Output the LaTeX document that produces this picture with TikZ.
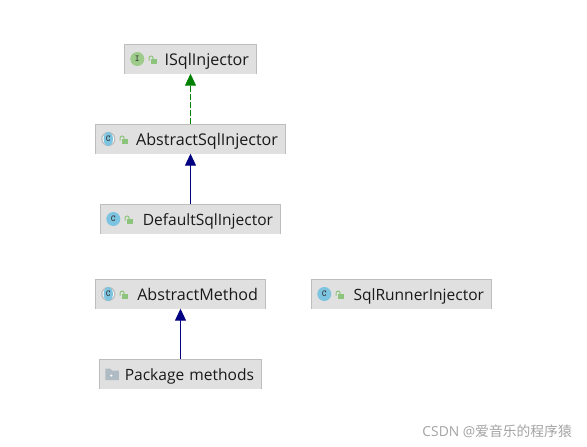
\documentclass[tikz,border=0pt]{standalone}
\usepackage{fontspec}
\setmainfont{Open Sans}
\newfontfamily\cjkfont{Noto Sans CJK SC}
\usetikzlibrary{arrows.meta}
\definecolor{boxfill}{HTML}{E0E0E0}
\definecolor{boxline}{HTML}{BDBDBD}
\definecolor{iconblue}{HTML}{7CC4DF}
\definecolor{icongreen}{HTML}{9CCB8A}
\definecolor{lockgreen}{HTML}{8DC47C}
\definecolor{foldergray}{HTML}{AEBBC2}
\definecolor{implgreen}{HTML}{008000}
\definecolor{extblue}{HTML}{000080}
\definecolor{marktext}{HTML}{A3A3A3}
\tikzset{
  lock/.pic={
    \fill[lockgreen] (-1.5,0) rectangle (4,5);
    \draw[lockgreen,line width=1pt] (-3.7,1.5) -- (-3.7,-1) arc (180:360:2) -- (0.3,0);
  }
}
\begin{document}
\begin{tikzpicture}[x=1pt,y=-1pt,node distance=80pt,
    main box/.style={fill=boxfill,minimum height=29pt,inner xsep=7.5pt,inner ysep=0pt,
      text width=#1-15pt,text height=12pt,text depth=0pt,align=right,
      font=\fontsize{16.1}{18}\selectfont,text=black!90},
    tight box/.style={main box=#1,font=\fontsize{15.55}{18}\selectfont},
    class icon/.style={circle,fill=iconblue,minimum size=14pt,inner sep=0pt,
      font=\fontsize{9}{9}\bfseries\ttfamily,text=black!80},
    iface icon/.style={class icon,fill=icongreen},
    abs icon/.style={class icon,draw=boxline,fill=white,line width=1.2pt,minimum size=13pt},
    abs letter/.style={font=\fontsize{9}{9}\bfseries\ttfamily,text=black!80,inner sep=0pt},
    impl arrow/.style={-{Triangle[length=12pt,width=11pt]},implgreen,line width=1pt,dash pattern=on 6pt off 2pt},
    ext arrow/.style={-{Triangle[length=12pt,width=11pt]},extblue,line width=1pt}]
    \useasboundingbox (0,0) rectangle (587,447);
    \node[main box=132pt] (isql) at (190.5,59) {ISqlInjector};
    \node[main box=190pt] (abs_sql) [below of=isql] {AbstractSqlInjector};
    \node[tight box=180pt] (def_sql) [below of=abs_sql] {DefaultSqlInjector};
    \node[main box=170pt] (abs_method) at (180.5,294) {AbstractMethod};
    \node[tight box=180pt] (runner) at (401.5,294) {SqlRunnerInjector};
    \node[tight box=162pt] (methods) [below of=abs_method] {Package methods};
    % open bottom edge
    \foreach \n in {isql,abs_sql,def_sql,abs_method,runner,methods}
      \draw[boxline,line width=1pt] (\n.south west) -- (\n.north west) -- (\n.north east) -- (\n.south east);
    \node[iface icon] (isql_icon) at ([xshift=13pt]isql.west) {I};
    \node[abs icon] (abs_sql_ring) at ([xshift=13pt]abs_sql.west) {};
    \fill[iconblue] (abs_sql_ring) ellipse (4.7 and 7);
    \node[abs letter] (abs_sql_icon) at (abs_sql_ring) {C};
    \node[class icon] (def_sql_icon) at ([xshift=13pt]def_sql.west) {C};
    \node[abs icon] (abs_method_ring) at ([xshift=13pt]abs_method.west) {};
    \fill[iconblue] (abs_method_ring) ellipse (4.7 and 7);
    \node[abs letter] (abs_method_icon) at (abs_method_ring) {C};
    \node[class icon] (runner_icon) at ([xshift=13pt]runner.west) {C};
    \foreach \n in {isql,abs_sql,def_sql,abs_method,runner}
      \pic at ([xshift=28.5pt]\n.west) {lock};
    % folder
    \fill[foldergray] ([xshift=6pt,yshift=5.5pt]methods.west) -- ++(5,0) -- ++(1.5,2) -- ++(7,0) -- ++(0,9.5) -- ++(-13.5,0) -- cycle;
    \fill[white] ([xshift=12pt,yshift=-1.5pt]methods.west) circle (1.2);
    \draw[impl arrow] (abs_sql) -- (isql);
    \draw[ext arrow] (def_sql) -- (abs_sql);
    \draw[ext arrow] (methods) -- (abs_method);
    \node[anchor=base east,inner sep=0pt,text=marktext,font=\fontsize{13.8}{16}\selectfont] (mark) at (572,436) {CSDN @{\cjkfont 爱音乐的程序猿}};
\end{tikzpicture}
\end{document}
